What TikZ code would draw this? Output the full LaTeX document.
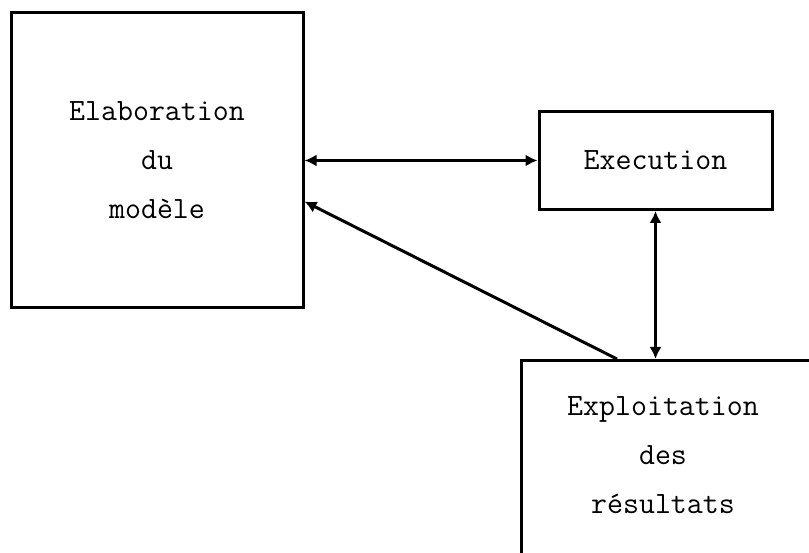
\documentclass[tikz,border=0pt]{standalone}
\usepackage{fontspec}
\usetikzlibrary{arrows.meta,positioning}

\begin{document}
\begin{tikzpicture}[
  x=1pt,y=1pt,
  node distance=233pt,
  stagebox/.style={draw,line width=3pt,inner sep=0pt},
  stagetext/.style={align=center,font=\ttfamily\fontsize{31}{49}\selectfont},
  route/.style={line width=3pt}
]
  \clip (0,0) rectangle (809,553);
  \node[stagebox,stagetext,minimum width=292pt,minimum height=295pt] (elab) at (157,392.5) {Elaboration\\du\\modèle};
  \node[stagebox,stagetext,minimum width=233pt,minimum height=98pt,right=of elab] (exec) {Execution};
  \node[stagebox,minimum width=330pt,minimum height=240pt,anchor=north west] (exploit) at (520,194) {};
  \node[stagetext] (exploittext) at (663,98) {Exploitation\\des\\résultats};

  \coordinate (slantfoot) at ([xshift=97pt]exploit.north west);
  \coordinate (slanttip) at ([yshift=-41pt]elab.east);

  \draw[route,{Latex[length=12pt,width=12pt]}-{Latex[length=12pt,width=12pt]}]
    (elab) -- (exec);
  \draw[route,{Latex[length=12pt,width=12pt]}-{Latex[length=12pt,width=12pt]}]
    (exec.south) -- (exec.south |- exploit.north);
  \draw[route,-{Latex[length=12pt,width=12pt]}]
    (slantfoot) -- (slanttip);
\end{tikzpicture}
\end{document}
